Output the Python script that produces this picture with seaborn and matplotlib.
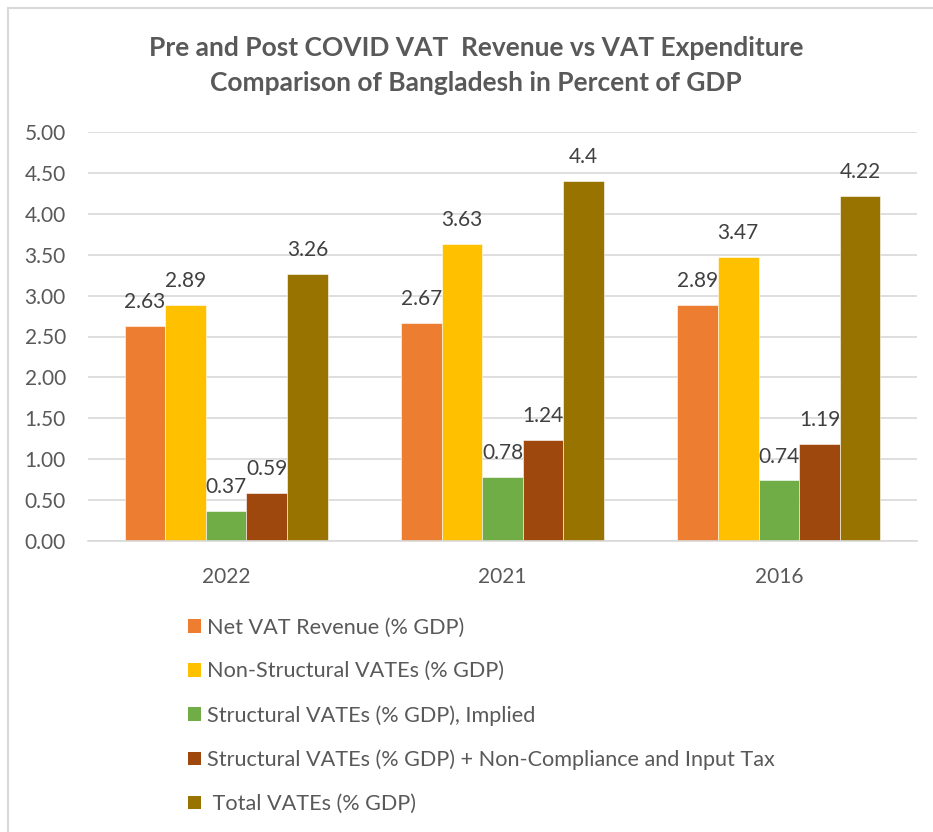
import numpy as np
import pandas as pd
import matplotlib
matplotlib.use("Agg")
import matplotlib.pyplot as plt
import seaborn as sns
from matplotlib.patches import Patch, Rectangle

# data
years = ['2022', '2021', '2016']
series = ['Net VAT Revenue (% GDP)',
          'Non-Structural VATEs (% GDP)',
          'Structural VATEs (% GDP), Implied',
          'Structural VATEs (% GDP) + Non-Compliance and Input Tax',
          ' Total VATEs (% GDP)']
net_vat = [2.63, 2.67, 2.89]
non_struct = [2.89, 3.63, 3.47]
struct_implied = [0.37, 0.78, 0.74]
struct_plus = [0.59, 1.24, 1.19]
total_vates = [3.26, 4.40, 4.22]
value_labels = [['2.63', '2.67', '2.89'],
                ['2.89', '3.63', '3.47'],
                ['0.37', '0.78', '0.74'],
                ['0.59', '1.24', '1.19'],
                ['3.26', '4.4', '4.22']]
colors = ['#ED7D31', '#FFC000', '#70AD47', '#9E480E', '#997300']

values = [net_vat, non_struct, struct_implied, struct_plus, total_vates]
df = pd.DataFrame({
    'Year': years * len(series),
    'Series': np.repeat(series, len(years)),
    'Value': np.concatenate(values),
})

sns.set_style('white')
plt.rcParams['font.family'] = ['Lato', 'DejaVu Sans']
txt = '#595959'

fig = plt.figure(figsize=(9.33, 8.32), dpi=100)
ax = fig.add_axes([88 / 933, 1 - 541 / 832, 829 / 933, 409 / 832])

sns.barplot(data=df, x='Year', y='Value', hue='Series', order=years,
            hue_order=series, palette=colors, saturation=1, width=0.735, gap=0,
            edgecolor='white', linewidth=0.4, legend=False, ax=ax)

for cont, labs in zip(ax.containers, value_labels):
    ax.bar_label(cont, labels=labs, padding=10, fontsize=15, color='#404040')

ax.set_xlim(-0.5, 2.5)
ax.set_ylim(0, 5)
ax.set_yticks(np.arange(0, 5.01, 0.5))
ax.set_yticklabels([f'{v:.2f}' for v in np.arange(0, 5.01, 0.5)])
ax.yaxis.grid(True, color='#D9D9D9', linewidth=1.2)
ax.set_axisbelow(True)
ax.set_xlabel('')
ax.set_ylabel('')
for s in ['left', 'right', 'top']:
    ax.spines[s].set_visible(False)
ax.spines['bottom'].set_color('#D9D9D9')
ax.spines['bottom'].set_linewidth(1.2)
ax.tick_params(axis='y', length=0, pad=16, labelsize=15, labelcolor=txt)
ax.tick_params(axis='x', length=0, pad=19, labelsize=15, labelcolor=txt)

fig.text(476 / 933, 1 - 48 / 832,
         'Pre and Post COVID VAT  Revenue vs VAT Expenditure',
         ha='center', va='center', fontsize=19, fontweight='bold', color=txt)
fig.text(476 / 933, 1 - 83 / 832,
         'Comparison of Bangladesh in Percent of GDP',
         ha='center', va='center', fontsize=19, fontweight='bold', color=txt)

handles = [Patch(facecolor=c, edgecolor='none') for c in colors]
fig.legend(handles, series, loc='upper left',
           bbox_to_anchor=(168 / 933, 1 - 598 / 832), frameon=False,
           fontsize=15.6, labelcolor=txt, handlelength=0.6, handleheight=0.6,
           handletextpad=0.3, labelspacing=1.1)

# chart border
fig.patches.append(Rectangle((8 / 933, -0.1), 1.2, 1 - 8 / 832 + 0.1,
                             transform=fig.transFigure, fill=False,
                             edgecolor='#D9D9D9', linewidth=1.5))

fig.savefig('out.png', dpi=100, facecolor='white')
